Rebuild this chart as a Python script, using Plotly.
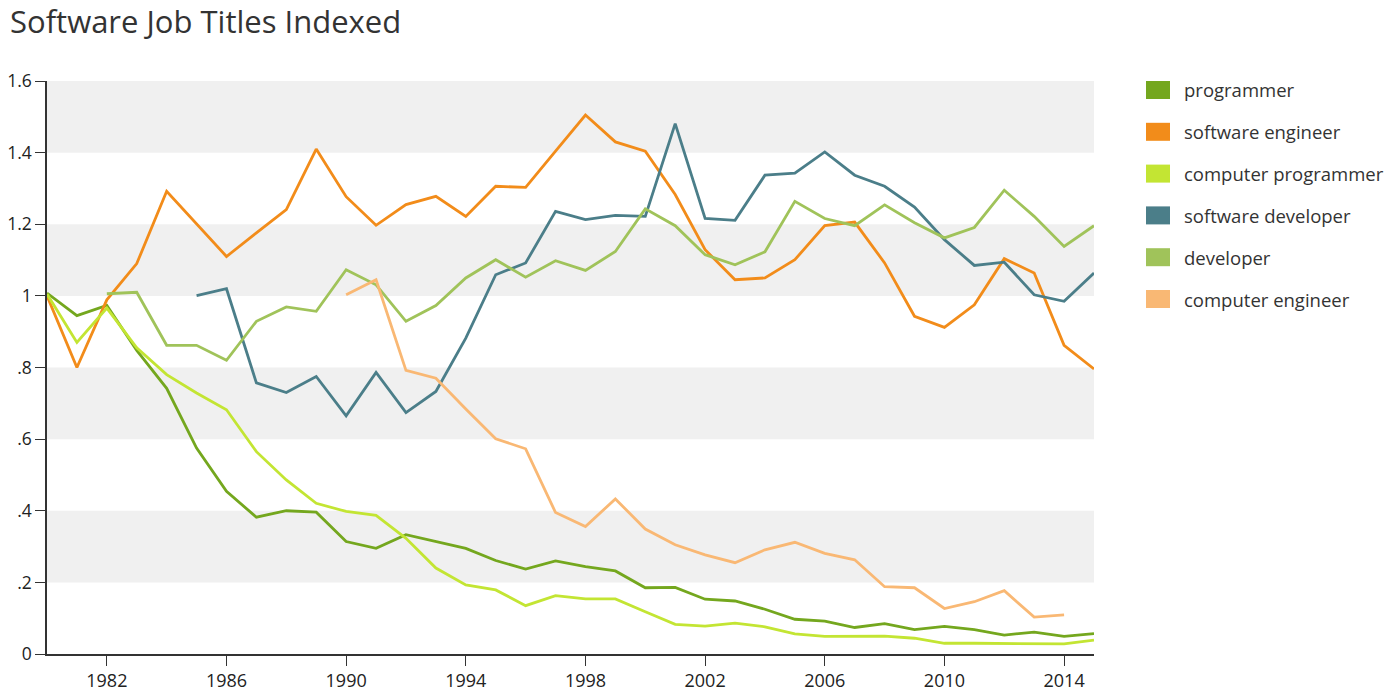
import plotly.graph_objects as go

years = list(range(1980, 2016))

programmer = [1.008, 0.945, 0.973, 0.848, 0.742, 0.575, 0.454, 0.382, 0.400, 0.396,
              0.314, 0.295, 0.333, 0.314, 0.295, 0.261, 0.237, 0.260, 0.244, 0.232,
              0.185, 0.186, 0.153, 0.148, 0.125, 0.097, 0.092, 0.074, 0.085, 0.068,
              0.077, 0.068, 0.053, 0.061, 0.049, 0.057]

software_engineer = [1.0, 0.80, 0.989, 1.09, 1.292, 1.20, 1.11, 1.176, 1.241, 1.41,
                     1.277, 1.197, 1.255, 1.278, 1.222, 1.306, 1.303, 1.404, 1.505, 1.430,
                     1.404, 1.283, 1.129, 1.045, 1.050, 1.101, 1.196, 1.206, 1.092, 0.943,
                     0.912, 0.975, 1.104, 1.064, 0.862, 0.796]

computer_programmer = [1.005, 0.870, 0.966, 0.855, 0.780, 0.729, 0.682, 0.565, 0.486, 0.421,
                       0.398, 0.387, 0.323, 0.240, 0.193, 0.179, 0.135, 0.163, 0.154, 0.154,
                       0.118, 0.083, 0.078, 0.086, 0.076, 0.056, 0.049, 0.049, 0.050, 0.044,
                       0.030, 0.030, 0.030, 0.030, 0.028, 0.039]

software_developer = [None, None, None, None, None, 1.001, 1.020, 0.757, 0.730, 0.775,
                      0.665, 0.786, 0.674, 0.733, 0.882, 1.059, 1.092, 1.236, 1.213, 1.225,
                      1.222, 1.481, 1.216, 1.211, 1.337, 1.343, 1.402, 1.337, 1.306, 1.248,
                      1.157, 1.085, 1.094, 1.003, 0.985, 1.064]

developer = [None, None, 1.006, 1.010, 0.862, 0.862, 0.820, 0.929, 0.969, 0.957,
             1.073, 1.031, 0.929, 0.973, 1.050, 1.101, 1.052, 1.098, 1.071, 1.124,
             1.243, 1.196, 1.115, 1.087, 1.123, 1.264, 1.216, 1.196, 1.254, 1.204,
             1.162, 1.191, 1.295, 1.222, 1.138, 1.196]

computer_engineer = [None] * 10 + [1.003, 1.045, 0.792, 0.770, 0.684, 0.601, 0.573, 0.395, 0.356, 0.433,
                                   0.349, 0.305, 0.277, 0.255, 0.291, 0.312, 0.281, 0.263, 0.188, 0.185,
                                   0.127, 0.146, 0.177, 0.103, 0.109, None]

series = [
    ("programmer", programmer, "#74a71e"),
    ("software engineer", software_engineer, "#f28c1a"),
    ("computer programmer", computer_programmer, "#c3e533"),
    ("software developer", software_developer, "#4b7e89"),
    ("developer", developer, "#a0c35a"),
    ("computer engineer", computer_engineer, "#f9b874"),
]

y_ticks = [0, 0.2, 0.4, 0.6, 0.8, 1.0, 1.2, 1.4, 1.6]
y_tick_text = ["0", ".2", ".4", ".6", ".8", "1", "1.2", "1.4", "1.6"]
x_ticks = list(range(1982, 2015, 4))

# page size and plot box in pixels (body margin is removed below)
W, H = 1400, 700
L, T, R, B = 47, 81, 1094, 654

fig = go.Figure()

# alternating grey bands behind the lines
for lo, hi in zip(y_ticks[1::2], y_ticks[2::2]):
    fig.add_shape(type="rect", xref="paper", x0=0, x1=1, y0=lo, y1=hi,
                  fillcolor="#f0f0f0", line=dict(width=0), layer="below")

for name, vals, col in series:
    fig.add_trace(go.Scatter(
        x=years, y=vals, mode="lines", name=name,
        line=dict(color=col, width=2.8),
        connectgaps=False, showlegend=False,
        hovertemplate="%{x}: %{y}<extra>" + name + "</extra>"
    ))

# hand-made legend: rectangular swatches + labels
def px_x(p):
    return (p - L) / (R - L)

def px_y(p):
    return (B - p) / (B - T)

for i, (name, vals, col) in enumerate(series):
    cy = 90 + i * 41.8
    fig.add_shape(type="rect", xref="paper", yref="paper",
                  x0=px_x(1146), x1=px_x(1170), y0=px_y(cy + 9), y1=px_y(cy - 9),
                  fillcolor=col, line=dict(width=0))
    fig.add_annotation(text=name, xref="paper", yref="paper",
                       x=px_x(1182), y=px_y(cy), xanchor="left", yanchor="middle",
                       showarrow=False, font=dict(size=18.5, color="#333333"))

fig.update_layout(
    width=W, height=H,
    margin=dict(l=L, r=W - R, t=T, b=H - B),
    paper_bgcolor="white",
    plot_bgcolor="white",
    font=dict(family="Open Sans", color="#333333"),
    showlegend=False,
    title=dict(text="Software Job Titles Indexed", x=10 / W, xanchor="left",
               y=1 - 11 / H, yanchor="top", pad=dict(t=0),
               font=dict(size=31, color="#333333", family="Open Sans")),
    xaxis=dict(range=[1980, 2015], tickvals=x_ticks, showgrid=False, zeroline=False,
               showline=True, linecolor="#333333", linewidth=1.5,
               ticks="outside", ticklen=10, tickcolor="#333333", automargin=False,
               tickfont=dict(size=18, color="#222222")),
    yaxis=dict(range=[0, 1.6], tickvals=y_ticks, ticktext=y_tick_text,
               showgrid=False, zeroline=False,
               showline=True, linecolor="#333333", linewidth=1.5,
               ticks="outside", ticklen=10, tickcolor="#333333", automargin=False,
               tickfont=dict(size=17.5, color="#222222")),
    hovermode="closest",
)

fig.write_html("out.html", config={"displayModeBar": False},
               post_script="document.body.style.margin = '0';")
